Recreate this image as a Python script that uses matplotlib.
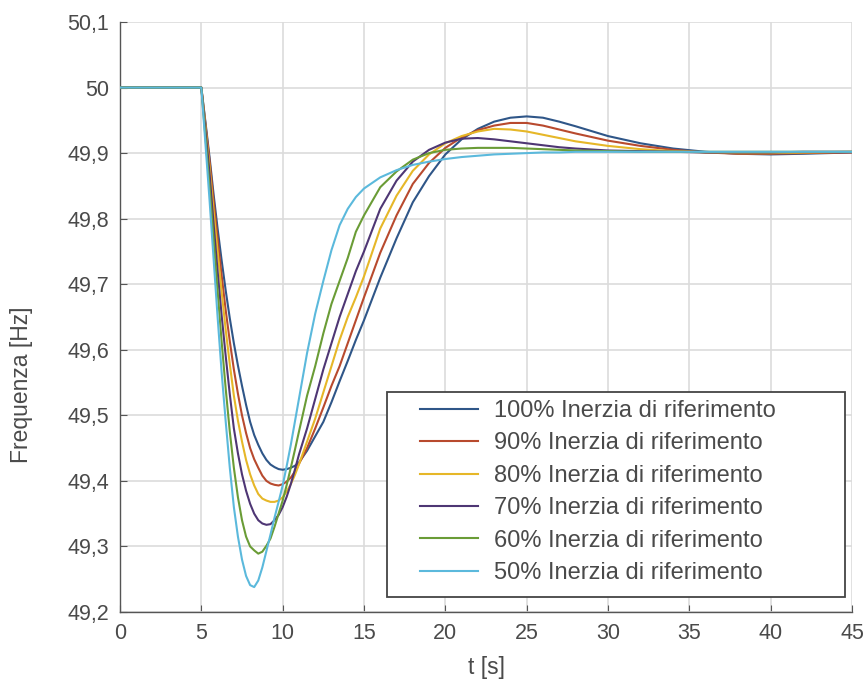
import matplotlib
matplotlib.use("Agg")
import matplotlib.pyplot as plt
from matplotlib.patches import Rectangle

# ---- data ----
t = [0, 5, 5.25, 5.5, 5.75, 6, 6.25, 6.5, 6.75, 7, 7.25, 7.5, 7.75, 8, 8.25, 8.5, 8.75,
     9, 9.25, 9.5, 9.75, 10, 10.25, 10.5, 10.75, 11, 11.5, 12, 12.5, 13, 13.5, 14, 14.5,
     15, 16, 17, 18, 19, 20, 21, 22, 23, 24, 25, 26, 27, 28, 30, 32, 34, 36, 38, 40, 42, 45]

f100 = [50.0, 50.0,
        49.948, 49.895, 49.838, 49.785, 49.736, 49.69, 49.648, 49.61, 49.576, 49.545, 49.516, 49.49,
        49.47, 49.455, 49.442, 49.432, 49.425, 49.421, 49.418, 49.417, 49.418, 49.42, 49.423, 49.428,
        49.446, 49.468, 49.49, 49.52, 49.552, 49.583, 49.615, 49.645,
        49.71, 49.77, 49.825, 49.865, 49.898, 49.921, 49.937, 49.948, 49.954, 49.956, 49.954, 49.948, 49.941,
        49.926, 49.915, 49.907, 49.902, 49.899, 49.898, 49.899, 49.901]
f90 = [50.0, 50.0,
       49.945, 49.89, 49.828, 49.77, 49.713, 49.66, 49.613, 49.57, 49.533, 49.50, 49.473, 49.45,
       49.433, 49.42, 49.408, 49.40, 49.396, 49.394, 49.393, 49.395, 49.399, 49.405, 49.414, 49.426,
       49.45, 49.48, 49.512, 49.545, 49.575, 49.61, 49.645, 49.68,
       49.748, 49.805, 49.853, 49.885, 49.908, 49.924, 49.935, 49.942, 49.946, 49.946, 49.942, 49.936, 49.930,
       49.919, 49.911, 49.905, 49.901, 49.899, 49.899, 49.90, 49.901]
f80 = [50.0, 50.0,
       49.94, 49.88, 49.813, 49.75, 49.688, 49.63, 49.578, 49.53, 49.492, 49.46, 49.432, 49.41,
       49.393, 49.38, 49.373, 49.37, 49.368, 49.368, 49.37, 49.375, 49.384, 49.395, 49.409, 49.425,
       49.46, 49.495, 49.535, 49.575, 49.615, 49.65, 49.68, 49.712,
       49.785, 49.835, 49.873, 49.898, 49.915, 49.926, 49.933, 49.937, 49.936, 49.933, 49.928, 49.923, 49.918,
       49.911, 49.906, 49.903, 49.901, 49.90, 49.90, 49.901, 49.902]
f70 = [50.0, 50.0,
       49.935, 49.87, 49.793, 49.72, 49.652, 49.59, 49.532, 49.48, 49.442, 49.41, 49.385, 49.365,
       49.35, 49.34, 49.335, 49.333, 49.334, 49.34, 49.348, 49.36, 49.376, 49.395, 49.417, 49.44,
       49.48, 49.525, 49.57, 49.61, 49.65, 49.685, 49.72, 49.75,
       49.815, 49.858, 49.887, 49.905, 49.916, 49.922, 49.923, 49.921, 49.918, 49.915, 49.912, 49.909, 49.907,
       49.904, 49.903, 49.902, 49.901, 49.901, 49.901, 49.902, 49.902]
f60 = [50.0, 50.0,
       49.925, 49.85, 49.77, 49.69, 49.612, 49.54, 49.475, 49.42, 49.375, 49.34, 49.315, 49.30,
       49.294, 49.289, 49.292, 49.301, 49.312, 49.33, 49.35, 49.37, 49.394, 49.42, 49.447, 49.475,
       49.53, 49.575, 49.625, 49.67, 49.705, 49.74, 49.78, 49.805,
       49.848, 49.872, 49.89, 49.90, 49.905, 49.907, 49.908, 49.908, 49.908, 49.907, 49.906, 49.905, 49.904,
       49.903, 49.902, 49.902, 49.902, 49.902, 49.902, 49.902, 49.902]
f50 = [50.0, 50.0,
       49.915, 49.83, 49.74, 49.65, 49.565, 49.49, 49.42, 49.36, 49.315, 49.28, 49.255, 49.241,
       49.238, 49.248, 49.268, 49.293, 49.318, 49.344, 49.368, 49.393, 49.423, 49.455, 49.49, 49.525,
       49.595, 49.655, 49.705, 49.752, 49.79, 49.815, 49.833, 49.846,
       49.863, 49.874, 49.882, 49.887, 49.891, 49.894, 49.896, 49.898, 49.899, 49.90, 49.901, 49.901, 49.902,
       49.902, 49.902, 49.902, 49.902, 49.902, 49.902, 49.902, 49.902]

series = [f100, f90, f80, f70, f60, f50]
labels = ["100% Inerzia di riferimento", "90% Inerzia di riferimento",
          "80% Inerzia di riferimento", "70% Inerzia di riferimento",
          "60% Inerzia di riferimento", "50% Inerzia di riferimento"]
colors = ["#2f5688", "#b84a2e", "#e6b728", "#4e3674", "#6a9c36", "#5bb9dc"]

xticks = [0, 5, 10, 15, 20, 25, 30, 35, 40, 45]
yticks = [49.2, 49.3, 49.4, 49.5, 49.6, 49.7, 49.8, 49.9, 50.0, 50.1]
yticklabels = ["49,2", "49,3", "49,4", "49,5", "49,6", "49,7", "49,8", "49,9", "50", "50,1"]

# ---- figure ----
plt.rcParams['font.family'] = ['Liberation Sans', 'DejaVu Sans']
txt = "#4a4a4a"
fig = plt.figure(figsize=(8.68, 6.82), dpi=100)
ax = fig.add_axes([120/868, 1 - 612/682, (852-120)/868, (612-22)/682])

for y, lab, c in zip(series, labels, colors):
    ax.plot(t, y, color=c, lw=1.5, label=lab, zorder=3)

ax.set_xlim(0, 45)
ax.set_ylim(49.2, 50.1)
ax.set_xticks(xticks)
ax.set_xticklabels([str(v) for v in xticks])
ax.set_yticks(yticks)
ax.set_yticklabels(yticklabels)
ax.grid(True, color="#dcdcdc", lw=1.2, zorder=0)
ax.set_axisbelow(True)
for s in ["top", "right"]:
    ax.spines[s].set_visible(False)
for s in ["left", "bottom"]:
    ax.spines[s].set_color("#555555")
    ax.spines[s].set_linewidth(1.0)
ax.tick_params(direction="in", length=5, color="#555555", labelcolor=txt,
               labelsize=15.5, pad=8)
ax.set_xlabel("t [s]", fontsize=16.5, color=txt)
ax.set_ylabel("Frequenza [Hz]", fontsize=16.5, color=txt)
ax.xaxis.set_label_coords(0.501, -0.075)
ax.yaxis.set_label_coords(-0.119, 0.385)

# legend frame
ax.add_patch(Rectangle(((387-120)/732, (612-597)/590), (845-387)/732, (597-392)/590,
                       transform=ax.transAxes, facecolor="white", edgecolor="#444444",
                       lw=1.3, zorder=6, clip_on=False))
leg = ax.legend(loc="upper left", bbox_to_anchor=((420-120)/732, (612-400)/590),
                frameon=False, fontsize=17, handlelength=2.45, handletextpad=0.7,
                labelspacing=0.44, borderpad=0, borderaxespad=0)
leg.set_zorder(7)
for text in leg.get_texts():
    text.set_color(txt)

fig.savefig("out.png", dpi=100)
